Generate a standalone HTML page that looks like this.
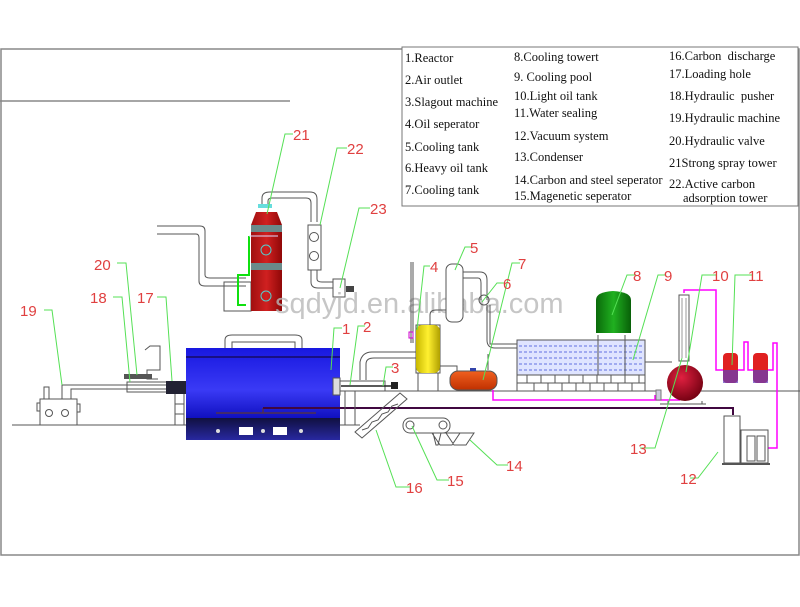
<!DOCTYPE html>
<html><head><meta charset="utf-8"><style>
html,body{margin:0;padding:0;background:#fff;}
svg{display:block}
.lg{font-family:"Liberation Serif",serif;font-size:12.5px;fill:#111}
.nm{font-family:"Liberation Sans",sans-serif;font-size:15px;fill:#e04040}
.ld{stroke:#55e055;fill:none;stroke-width:1}
.k{stroke:#555;fill:none;stroke-width:1}
</style></head><body>
<svg width="800" height="607" viewBox="0 0 800 607" xmlns="http://www.w3.org/2000/svg">
<defs>
<linearGradient id="bl" x1="0" y1="0" x2="0" y2="1"><stop offset="0" stop-color="#1818e0"/><stop offset="0.6" stop-color="#3a3af5"/><stop offset="1" stop-color="#1010c0"/></linearGradient>
<linearGradient id="bk" x1="0" y1="0" x2="0" y2="1"><stop offset="0" stop-color="#101040"/><stop offset="1" stop-color="#2828a0"/></linearGradient>
<linearGradient id="rd" x1="0" y1="0" x2="1" y2="0"><stop offset="0" stop-color="#a01010"/><stop offset="0.5" stop-color="#d02020"/><stop offset="1" stop-color="#900808"/></linearGradient>
<linearGradient id="yl" x1="0" y1="0" x2="1" y2="0"><stop offset="0" stop-color="#c8b800"/><stop offset="0.5" stop-color="#fff030"/><stop offset="1" stop-color="#b0a000"/></linearGradient>
<linearGradient id="or" x1="0" y1="0" x2="0" y2="1"><stop offset="0" stop-color="#f06020"/><stop offset="1" stop-color="#c03000"/></linearGradient>
<linearGradient id="gr" x1="0" y1="0" x2="1" y2="0"><stop offset="0" stop-color="#0a6a0a"/><stop offset="0.5" stop-color="#20b020"/><stop offset="1" stop-color="#086008"/></linearGradient>
<radialGradient id="sp" cx="0.4" cy="0.35" r="0.7"><stop offset="0" stop-color="#e02040"/><stop offset="1" stop-color="#700010"/></radialGradient>
</defs>
<!-- frame -->
<path d="M1 49 H799 V555 H1 Z" fill="none" stroke="#888" stroke-width="1.5"/>
<line x1="0" y1="101" x2="290" y2="101" stroke="#888" stroke-width="1.5"/>
<rect x="402" y="47" width="396" height="159" fill="#fff" stroke="#777"/>
<!-- legend -->
<g class="lg">
<text x="405" y="62">1.Reactor</text><text x="405" y="84">2.Air outlet</text><text x="405" y="106">3.Slagout machine</text><text x="405" y="128">4.Oil seperator</text><text x="405" y="151">5.Cooling tank</text><text x="405" y="172">6.Heavy oil tank</text><text x="405" y="194">7.Cooling tank</text>
<text x="514" y="61">8.Cooling towert</text><text x="514" y="81">9. Cooling pool</text><text x="514" y="100">10.Light oil tank</text><text x="514" y="117">11.Water sealing</text><text x="514" y="140">12.Vacuum system</text><text x="514" y="161">13.Condenser</text><text x="514" y="184">14.Carbon and steel seperator</text><text x="514" y="200">15.Magenetic seperator</text>
<text x="669" y="60">16.Carbon&#160; discharge</text><text x="669" y="78">17.Loading hole</text><text x="669" y="100">18.Hydraulic&#160; pusher</text><text x="669" y="122">19.Hydraulic machine</text><text x="669" y="145">20.Hydraulic valve</text><text x="669" y="167">21Strong spray tower</text><text x="669" y="188">22.Active carbon</text><text x="683" y="202">adsorption tower</text>
</g>
<!-- ground lines -->
<line x1="12" y1="425" x2="186" y2="425" stroke="#555"/>
<line x1="340" y1="425" x2="360" y2="425" stroke="#555"/>
<path d="M350 391 H660 M700 391 H800" stroke="#555"/>
<!-- tower -->
<path d="M157 226 H200 Q205 226 205 231 V275 Q205 278 210 278 H246" class="k" stroke="#6060d0"/>
<path d="M157 234 H196 Q199 234 199 238 V281 Q199 286 205 286 H246" class="k" stroke="#6060d0"/>
<rect x="224" y="282" width="27" height="29" class="k" stroke="#777"/>
<path d="M251 225 L256 212 H277 L282 225 V311 H251 Z" fill="url(#rd)"/>
<rect x="251" y="225" width="31" height="7" fill="#6a8a8a"/><rect x="251" y="263" width="31" height="7" fill="#6a8a8a"/>
<circle cx="266" cy="250" r="5" fill="none" stroke="#5cc"/><circle cx="266" cy="296" r="5" fill="none" stroke="#5cc"/>
<path d="M249 236 V275 H238 V305 H246" stroke="#10e010" stroke-width="2" fill="none"/>
<line x1="249" y1="236" x2="278" y2="236" stroke="#ddf" stroke-width="1"/>
<path d="M262 205 V198 Q262 192 270 192 H310 Q317 192 317 199 V222" class="k"/>
<path d="M268 205 V201 Q268 198 272 198 H306 Q311 198 311 203 V222" class="k"/>
<rect x="258" y="204" width="14" height="4" fill="#6dd"/>
<rect x="308" y="225" width="13" height="45" class="k"/><circle cx="314" cy="237" r="4.5" class="k"/><circle cx="314" cy="256" r="4.5" class="k"/>
<path d="M311 270 V282 Q311 288 318 288 H333 M317 270 V279 Q317 282 322 282 H333" class="k"/>
<rect x="333" y="279" width="12" height="18" class="k"/><rect x="346" y="286" width="8" height="6" fill="#444"/>
<!-- watermark -->
<text x="275" y="313" font-family="Liberation Sans,sans-serif" font-size="29" fill="#b8b8b8" opacity="0.8">sqdyjd.en.alibaba.com</text>
<!-- hydraulic machine -->
<rect x="40" y="399" width="37" height="26" class="k"/><rect x="37" y="403" width="3" height="8" class="k"/><rect x="77" y="404" width="3" height="8" class="k"/>
<circle cx="49" cy="413" r="3.5" class="k"/><circle cx="65" cy="413" r="3.5" class="k"/>
<rect x="44" y="387" width="5" height="12" class="k"/>
<path d="M62 399 V385 H170 M71 399 V389 H170" class="k"/>
<rect x="124" y="374" width="28" height="5" fill="#555"/>
<rect x="127" y="382" width="40" height="10" class="k"/>
<path d="M145 350 L150 346 H160 V370 H147 V379 H158" class="k"/>
<rect x="166" y="381" width="20" height="13" fill="#223"/>
<path d="M175 394 V425 M184 394 V425 M175 404 H184 M175 414 H184" class="k"/>
<!-- reactor -->
<path d="M225 348 V340 Q225 335 232 335 H295 Q302 335 302 340 V348" class="k"/>
<path d="M232 348 V342 H295 V348" class="k"/>
<rect x="186" y="348" width="154" height="70" fill="url(#bl)"/>
<line x1="186" y1="357" x2="340" y2="357" stroke="#102"/>
<rect x="186" y="418" width="154" height="22" fill="url(#bk)"/>
<rect x="239" y="427" width="14" height="8" fill="#fff"/><rect x="273" y="427" width="14" height="8" fill="#fff"/>
<circle cx="218" cy="431" r="2" fill="#ddd"/><circle cx="263" cy="431" r="2" fill="#ddd"/><circle cx="301" cy="431" r="2" fill="#ddd"/>
<rect x="333" y="378" width="7" height="17" fill="#ddd" stroke="#555"/>
<path d="M216 413 H316 M263 408 V413" stroke="#503050" stroke-width="1.5"/>
<!-- pipe to vacuum -->
<path d="M263 408 H733 V415" stroke="#400840" stroke-width="2" fill="none"/>
<!-- slagout 3 -->
<rect x="340" y="381" width="45" height="10" class="k"/>
<path d="M341 386 H395" stroke="#222" stroke-width="1.5"/><rect x="391" y="382" width="7" height="7" fill="#222"/>
<path d="M345 391 V425 M355 391 V425" class="k"/>
<path d="M360 380 V362 Q362 352 372 352 H415 M366 380 V364 Q366 358 374 358 H415" class="k"/>
<!-- 16 conveyor -->
<path d="M355 432 L400 393 L407 399 L362 438 Z" class="k"/>
<path d="M362 430 l6 -2 l4 -6 l6 -2 l4 -6 l6 -2 l4 -6 l6 -2" class="k"/>
<!-- 15 magnetic -->
<rect x="403" y="418" width="47" height="15" rx="7" class="k"/><circle cx="410" cy="425" r="4" class="k"/><circle cx="443" cy="425" r="4" class="k"/>
<path d="M433 433 L441 433 L438 445 H436 Z M446 433 H474 L466 445 H454 Z M432 433 H460 L452 445 H440 Z" class="k"/>
<!-- 4 yellow -->
<path d="M416 325 H440 V373 H416 Z M418 373 V391 M438 373 V391" class="k"/>
<rect x="416" y="325" width="24" height="48" rx="6" fill="url(#yl)"/>
<path d="M380 352 H416 M380 358 H416 M413 343 V262 M411 262 V343" class="k" stroke="#888"/>
<rect x="409" y="332" width="4" height="6" fill="none" stroke="#c0c"/>
<path d="M430 325 V315 Q430 310 436 310 H446" class="k"/>
<!-- 5 -->
<rect x="446" y="264" width="17" height="58" rx="6" fill="#fff" stroke="#555"/>
<path d="M463 272 H480 Q487 272 487 280 V300 M463 278 H478 Q481 278 481 283 V300" class="k"/>
<circle cx="484" cy="300" r="5" class="k"/>
<path d="M487 305 V340 Q487 348 495 348 H517 M490 305 V344 H517" class="k"/>
<!-- 7 heavy oil -->
<rect x="450" y="371" width="47" height="19" rx="8" fill="url(#or)" stroke="#555"/>
<rect x="470" y="368" width="6" height="3" fill="#34a"/>
<path d="M440 366 H457 V371 M488 354 V370" class="k"/>
<path d="M493 390 V400 H655 V395 M655 400 H680" stroke="#f0f" stroke-width="1.5" fill="none"/>
<!-- pool -->
<rect x="517" y="340" width="128" height="35" fill="#dfe4ff" stroke="#555"/>
<g stroke="#6070e0" stroke-dasharray="3,2">
<line x1="519" y1="346" x2="643" y2="346"/><line x1="519" y1="352" x2="643" y2="352"/><line x1="519" y1="358" x2="643" y2="358"/><line x1="519" y1="364" x2="643" y2="364"/><line x1="519" y1="370" x2="643" y2="370"/></g>
<rect x="517" y="375" width="128" height="16" fill="#fff" stroke="#555"/>
<path d="M517 383 H645" class="k"/>
<g class="k"><path d="M527 375 V383 M541 375 V383 M555 375 V383 M569 375 V383 M583 375 V383 M597 375 V383 M611 375 V383 M625 375 V383 M639 375 V383 M534 383 V391 M548 383 V391 M562 383 V391 M576 383 V391 M590 383 V391 M604 383 V391 M618 383 V391 M632 383 V391"/></g>
<path d="M598 335 V375 M625 335 V375 M645 362 H672" class="k"/>
<!-- 8 green -->
<path d="M596 300 Q596 292 613 291 Q631 292 631 300 V333 H596 Z" fill="url(#gr)"/>
<circle cx="604" cy="335" r="2" fill="#fff"/><circle cx="613" cy="335" r="2" fill="#fff"/><circle cx="622" cy="335" r="2" fill="#fff"/>
<!-- 10/13 -->
<rect x="679" y="295" width="10" height="66" fill="#fff" stroke="#555"/>
<path d="M682 298 V358 M686 298 V358" stroke="#999"/>
<circle cx="685" cy="383" r="18" fill="url(#sp)"/>
<path d="M668 401 V404 M702 401 V404 M660 404 H706" class="k"/>
<rect x="656" y="390" width="5" height="10" fill="#ccd" stroke="#777"/>
<!-- magenta to 11 -->
<path d="M684 293 V290 H716 V370 H725 M738 370 H744 V342 H748 V370 H755 M768 370 H773 V343 H777 V448 H768" stroke="#f0f" stroke-width="1.5" fill="none"/>
<rect x="723" y="353" width="15" height="30" rx="4" fill="#e02020"/><rect x="723" y="370" width="15" height="13" fill="#6040c0" opacity="0.7"/>
<rect x="753" y="353" width="15" height="30" rx="4" fill="#e02020"/><rect x="753" y="370" width="15" height="13" fill="#6040c0" opacity="0.7"/>
<!-- 12 vacuum -->
<rect x="724" y="416" width="16" height="47" class="k"/><rect x="741" y="430" width="27" height="33" class="k"/>
<rect x="747" y="436" width="8" height="25" class="k"/><rect x="757" y="436" width="8" height="25" class="k"/>
<line x1="722" y1="464" x2="770" y2="464" stroke="#555" stroke-width="2"/>
<!-- leaders -->
<g class="ld">
<path d="M44 310 H52 L62 385"/><path d="M117 263 H126 L137 375"/><path d="M113 297 H122 L130 382"/><path d="M157 297 H166 L172 381"/>
<path d="M342 328 H334 L331 370"/><path d="M365 326 H358 L350 385"/><path d="M393 367 H386 L383 386"/>
<path d="M293 134 H285 L267 214"/><path d="M347 148 H337 L320 225"/><path d="M370 208 H359 L340 288"/>
<path d="M430 266 H424 L417 330"/><path d="M472 247 H465 L455 270"/><path d="M520 263 H512 L483 380"/><path d="M505 283 H497 L482 302"/>
<path d="M636 275 H627 L612 315"/><path d="M666 275 H658 L633 360"/><path d="M716 275 H702 L686 372"/><path d="M752 275 H735 L732 365"/>
<path d="M640 448 H655 L682 358"/><path d="M690 478 H698 L718 452"/><path d="M508 465 H497 L470 440"/><path d="M449 480 H437 L412 426"/><path d="M410 487 H396 L376 430"/>
</g>
<g class="nm">
<text x="20" y="316">19</text><text x="94" y="270">20</text><text x="90" y="303">18</text><text x="137" y="303">17</text>
<text x="342" y="334">1</text><text x="363" y="332">2</text><text x="391" y="373">3</text>
<text x="293" y="140">21</text><text x="347" y="154">22</text><text x="370" y="214">23</text>
<text x="430" y="272">4</text><text x="470" y="253">5</text><text x="518" y="269">7</text><text x="503" y="289">6</text>
<text x="633" y="281">8</text><text x="664" y="281">9</text><text x="712" y="281">10</text><text x="748" y="281">11</text>
<text x="630" y="454">13</text><text x="680" y="484">12</text><text x="506" y="471">14</text><text x="447" y="486">15</text><text x="406" y="493">16</text>
</g>
</svg>
</body></html>
